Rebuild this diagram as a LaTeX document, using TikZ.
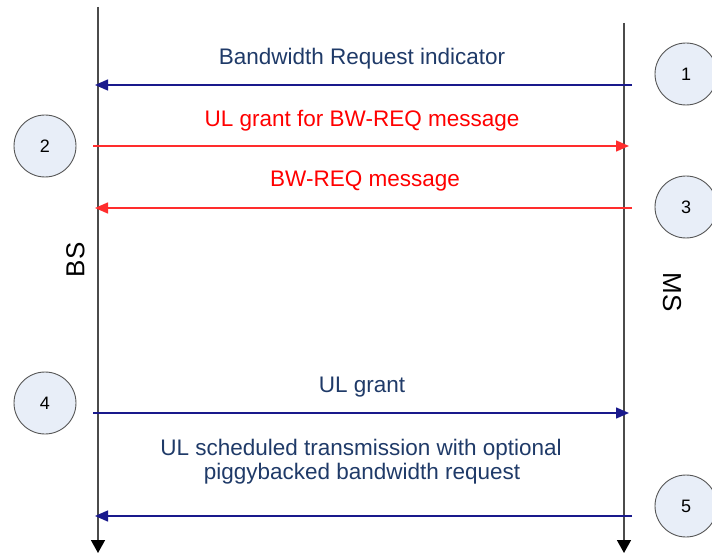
\documentclass[tikz,border=0pt]{standalone}
\usepackage{fontspec}
\setmainfont{Liberation Sans}
\usetikzlibrary{arrows.meta}
\definecolor{msgblue}{RGB}{25,25,140}
\definecolor{txtblue}{RGB}{31,58,104}
\definecolor{msgred}{RGB}{255,45,45}
\definecolor{stepfill}{RGB}{232,238,248}
\definecolor{lifegray}{RGB}{75,75,75}
\tikzset{
  lifeline/.style={draw=lifegray, line width=1.6pt, -{Triangle[length=13pt,width=14pt,color=black]}},
  msgline/.style={line width=1.4pt, -{Triangle[length=13pt,width=11pt]}},
  stepnode/.style={circle, draw={rgb,255:red,85;green,85;blue,85}, line width=0.9pt, fill=stepfill, minimum size=62pt, inner sep=0pt, font=\fontsize{18}{20}\selectfont},
  msgtext/.style={anchor=base, inner sep=0pt, font=\fontsize{22.5}{25}\selectfont},
  sidetext/.style={inner sep=0pt, font=\fontsize{26}{28}\selectfont}
}
\begin{document}
\begin{tikzpicture}[x=1pt,y=-1pt]
        \useasboundingbox (0,0) rectangle (712,553);
        % lifelines
        \coordinate (bstop) at (98,7);
        \coordinate (bsbot) at (98,553);
        \coordinate (mstop) at (624,23);
        \coordinate (msbot) at (624,553);
        \draw[lifeline] (bstop) -- (bsbot);
        \draw[lifeline] (mstop) -- (msbot);
        \node[sidetext, rotate=90] (bs) at (75.5,260) {BS};
        \node[sidetext, rotate=-90] (ms) at (672,292) {MS};
        % step numbers
        \node[stepnode] (s1) at (686,74) {1};
        \node[stepnode] (s2) at (45,146) {2};
        \node[stepnode] (s3) at (686,207) {3};
        \node[stepnode] (s4) at (45,403) {4};
        \node[stepnode] (s5) at (686,506) {5};
        % message ends
        \coordinate (ms1) at (632,85);
        \coordinate (bs1) at (95,85);
        \coordinate (bs2) at (93,146);
        \coordinate (ms2) at (629,146);
        \coordinate (ms3) at (632,208);
        \coordinate (bs3) at (95,208);
        \coordinate (bs4) at (93,413);
        \coordinate (ms4) at (629,413);
        \coordinate (ms5) at (632,516);
        \coordinate (bs5) at (95,516);
        \draw[msgline, msgblue] (ms1) -- (bs1);
        \draw[msgline, msgred] (bs2) -- (ms2);
        \draw[msgline, msgred] (ms3) -- (bs3);
        \draw[msgline, msgblue] (bs4) -- (ms4);
        \draw[msgline, msgblue] (ms5) -- (bs5);
        % labels
        \node[msgtext, txtblue] (t1) at (362,65) {Bandwidth Request indicator};
        \node[msgtext, red] (t2) at (362,127) {UL grant for BW-REQ message};
        \node[msgtext, red] (t3) at (365,187) {BW-REQ message};
        \node[msgtext, txtblue] (t4) at (362,392) {UL grant};
        \node[msgtext, txtblue] (t5) at (361,455) {UL scheduled transmission with optional};
        \node[msgtext, txtblue] (t6) at (362,479) {piggybacked bandwidth request};
\end{tikzpicture}
\end{document}
